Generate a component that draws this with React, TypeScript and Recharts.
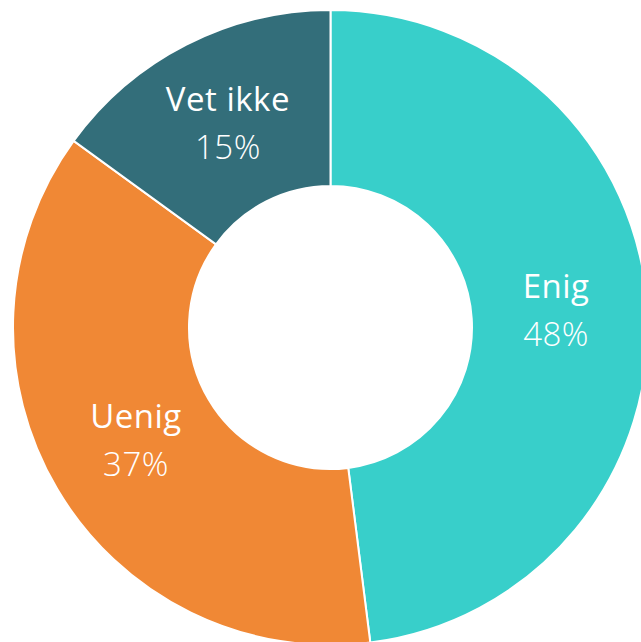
import React from "react";
import { PieChart, Pie, Cell } from "recharts";

// answer categories and shares (%)
const categories = ["Enig", "Uenig", "Vet ikke"];
const shares = [48, 37, 15];
const colors = ["#38CFCA", "#F08835", "#336E7A"];

const data = categories.map((name, i) => ({ name, value: shares[i] }));

const RADIAN = Math.PI / 180;

const renderLabel = (props: any) => {
  const { cx, cy, midAngle, name, value } = props;
  const r = 226;
  const x = cx + r * Math.cos(-midAngle * RADIAN);
  const y = cy + r * Math.sin(-midAngle * RADIAN);
  return (
    <text
      x={x}
      y={y}
      fill="#ffffff"
      textAnchor="middle"
      fontFamily="'Open Sans', sans-serif"
      fontSize={33}
      letterSpacing={0.5}
    >
      <tspan x={x} dy={-15}>
        {name}
      </tspan>
      <tspan x={x} dy={48} fontWeight={300}>
        {value}%
      </tspan>
    </text>
  );
};

const App = () => {
  return (
    <div style={{ position: "absolute", left: 0, top: 0, width: 641, height: 642 }}>
      <PieChart width={641} height={642} margin={{ top: 0, right: 0, bottom: 0, left: 0 }}>
        <Pie
          data={data}
          dataKey="value"
          nameKey="name"
          cx={330.5}
          cy={327.5}
          innerRadius={141.5}
          outerRadius={317.5}
          startAngle={90}
          endAngle={-270}
          stroke="#ffffff"
          strokeWidth={2}
          label={renderLabel}
          labelLine={false}
          isAnimationActive={false}
        >
          {data.map((d, i) => (
            <Cell key={d.name} fill={colors[i]} />
          ))}
        </Pie>
      </PieChart>
    </div>
  );
};

export default App;
